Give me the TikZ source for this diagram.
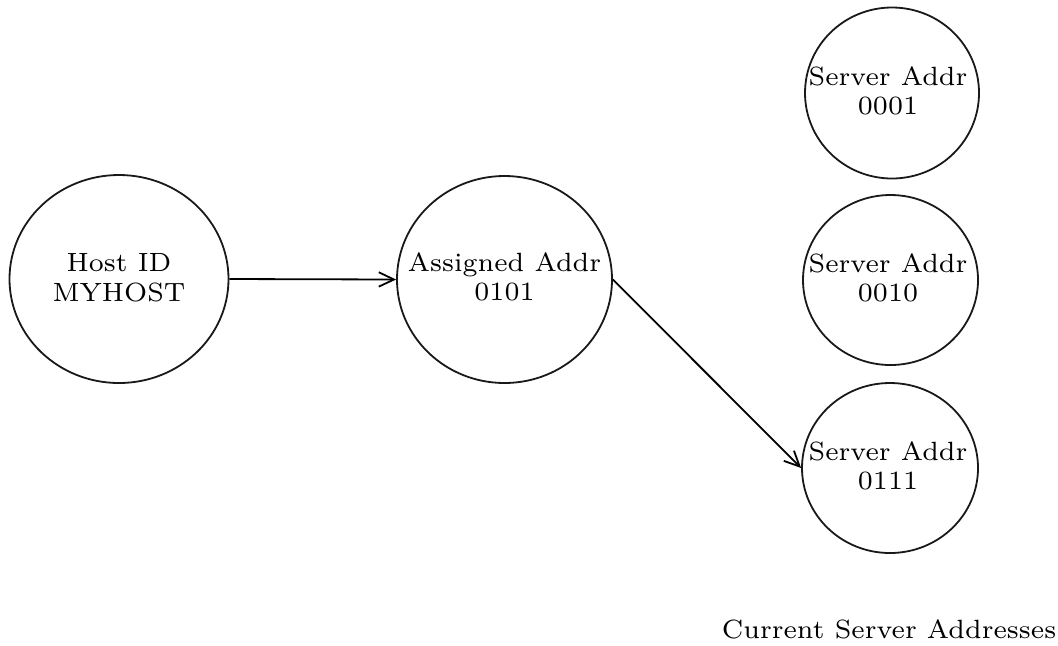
\documentclass[tikz,border=0pt]{standalone}
\usetikzlibrary{shapes.geometric,arrows.meta}
\begin{document}
\begin{tikzpicture}[x=0.25pt,y=-0.25pt,
  bubble/.style={draw=black!90,ellipse,line width=0.45pt,inner sep=0pt},
  lbl/.style={align=center,inner sep=0pt,font=\fontsize{6.6}{7.4}\selectfont},
  conn/.style={line width=0.45pt,-{Straight Barb[length=3.8pt,width=3.6pt,line width=0.45pt]}}]
\useasboundingbox (0,0) rectangle (1058,645);
% circles
\node[bubble,minimum width=54.75pt,minimum height=52pt] (host) at (119,279) {};
\node[bubble,minimum width=53.75pt,minimum height=51.75pt] (asg) at (504.5,279.5) {};
\node[bubble,minimum width=43.5pt,minimum height=42.75pt] (s1) at (892,93) {};
\node[bubble,minimum width=43.75pt,minimum height=42.5pt] (s2) at (890.5,280) {};
\node[bubble,minimum width=44pt,minimum height=42.5pt] (s3) at (890,468) {};
% labels
\node[lbl] (hostt) at (119,278) {Host ID\\MYHOST};
\node[lbl] (asgt) at (504.5,277) {Assigned Addr\\0101};
\node[lbl] (s1t) at (888,91) {Server Addr\\0001};
\node[lbl] (s2t) at (888,278) {Server Addr\\0010};
\node[lbl] (s3t) at (888,466) {Server Addr\\0111};
\node[lbl,anchor=base] (cap) at (889,638) {Current Server Addresses};
% connectors
\draw[conn] (host.east) -- (asg.west);
\draw[conn] (asg.east) -- (s3.west);
\end{tikzpicture}
\end{document}
